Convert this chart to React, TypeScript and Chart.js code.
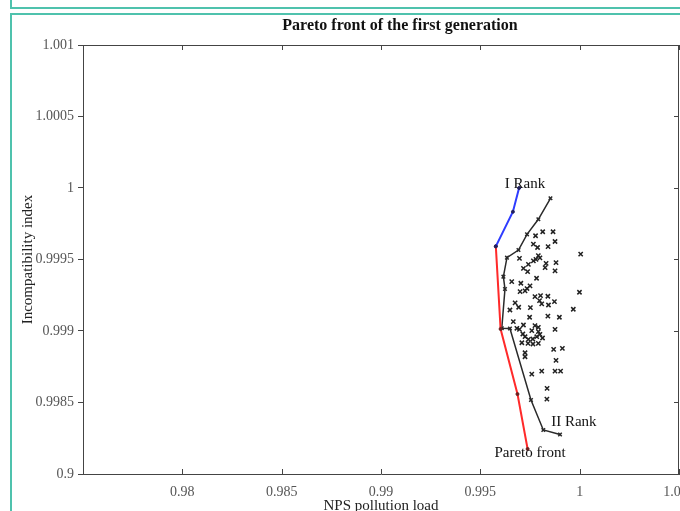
import React, { useEffect, useRef } from 'react';
import { Chart, registerables } from 'chart.js';

Chart.register(...registerables);

const TITLE = 'Pareto front of the first generation';
const X_TITLE = 'NPS pollution load';
const Y_TITLE = 'Incompatibility index';

const xTickValues = [0.98, 0.985, 0.99, 0.995, 1, 1.005];
const xTickLabels = ['0.98', '0.985', '0.99', '0.995', '1', '1.005'];
const yTickValues = [0.998, 0.9985, 0.999, 0.9995, 1, 1.0005, 1.001];
const yTickLabels = ['0.9', '0.9985', '0.999', '0.9995', '1', '1.0005', '1.001'];

// whole first-generation population
const populationX = [
  0.99814, 0.99866, 0.99778, 0.99876, 0.99767, 0.99788, 0.99841, 1.00005, 0.99792, 0.998,
  0.99697, 0.9978, 0.99767, 0.99881, 0.99742, 0.99831, 0.99826, 0.99717, 0.99738, 0.99876,
  0.99783, 0.99704, 0.99658, 0.9975, 0.99735, 0.99725, 0.997, 0.99999, 0.99775, 0.99803,
  0.9984, 0.99798, 0.99809, 0.99843, 0.99873, 0.99675, 0.99693, 0.99752, 0.99968, 0.99649,
  0.99748, 0.9984, 0.99898, 0.99666, 0.99717, 0.99759, 0.99792, 0.99876, 0.99684, 0.99697,
  0.99714, 0.99725, 0.99792, 0.998, 0.99742, 0.99764, 0.99784, 0.99709, 0.99792, 0.99869,
  0.99913, 0.99725, 0.99725, 0.99881, 0.99759, 0.99809, 0.99876, 0.99904, 0.99836, 0.99835,
  0.99775, 0.9974, 0.99765, 0.99813,
];
const populationY = [
  0.999694, 0.999694, 0.999666, 0.999626, 0.999608, 0.999584, 0.99959, 0.999538, 0.999527, 0.999511,
  0.999508, 0.999501, 0.99949, 0.999478, 0.999466, 0.999473, 0.999443, 0.999438, 0.999415, 0.99942,
  0.999369, 0.999334, 0.999345, 0.999315, 0.999297, 0.99928, 0.999275, 0.999271, 0.99924, 0.999248,
  0.999243, 0.999213, 0.99919, 0.999182, 0.999205, 0.999197, 0.999166, 0.999163, 0.999152, 0.999147,
  0.999096, 0.999104, 0.999096, 0.999065, 0.999042, 0.999002, 0.999026, 0.999011, 0.999019, 0.999012,
  0.998979, 0.99896, 0.998995, 0.998977, 0.998942, 0.998944, 0.99896, 0.998918, 0.998914, 0.998872,
  0.998879, 0.998848, 0.99882, 0.998794, 0.998698, 0.99872, 0.99872, 0.99872, 0.998599, 0.998524,
  0.999038, 0.998913, 0.998909, 0.998951,
];

// I Rank (blue)
const rank1X = [0.99578, 0.99664, 0.99695];
const rank1Y = [0.999592, 0.999834, 1.0];

// II Rank (black)
const rank2X = [0.99853, 0.99792, 0.99735, 0.99692, 0.99634, 0.99616, 0.99624, 0.99608, 0.99649, 0.99755, 0.99817, 0.99901];
const rank2Y = [0.999928, 0.999781, 0.999676, 0.999566, 0.999513, 0.99938, 0.999294, 0.999019, 0.999018, 0.998518, 0.998308, 0.998276];

// Pareto front (red)
const paretoX = [0.99578, 0.99602, 0.99687, 0.99738];
const paretoY = [0.999592, 0.999014, 0.998559, 0.998175];

const noteTexts = ['I Rank', 'II Rank', 'Pareto front'];
const noteX = [0.99725, 0.99971, 0.9975];
const noteY = [1.00003, 0.998364, 0.998147];

const toPoints = (xs: number[], ys: number[]) => xs.map((x, i) => ({ x, y: ys[i] }));

const SERIF = '"Liberation Serif", "Times New Roman", serif';

const framePlugin = {
  id: 'matlabFrame',
  afterDraw(chart: any) {
    const { ctx, chartArea } = chart;
    const { left, right, top, bottom } = chartArea;
    const xs = chart.scales.x;
    const ys = chart.scales.y;
    ctx.save();
    ctx.strokeStyle = '#444';
    ctx.lineWidth = 1;
    ctx.beginPath();
    ctx.moveTo(left, top + 0.5);
    ctx.lineTo(right, top + 0.5);
    ctx.moveTo(right - 0.5, top);
    ctx.lineTo(right - 0.5, bottom);
    xs.ticks.forEach((t: any) => {
      const px = Math.round(xs.getPixelForValue(t.value)) + 0.5;
      ctx.moveTo(px, bottom);
      ctx.lineTo(px, bottom - 5);
      ctx.moveTo(px, top);
      ctx.lineTo(px, top + 5);
    });
    ys.ticks.forEach((t: any) => {
      const py = Math.round(ys.getPixelForValue(t.value)) + 0.5;
      ctx.moveTo(right, py);
      ctx.lineTo(right - 5, py);
    });
    ctx.stroke();

    ctx.fillStyle = '#111';
    ctx.textAlign = 'center';
    ctx.textBaseline = 'middle';
    ctx.font = '15px ' + SERIF;
    noteTexts.forEach((s, i) => {
      ctx.fillText(s, xs.getPixelForValue(noteX[i]), ys.getPixelForValue(noteY[i]));
    });

    ctx.font = 'bold 16px ' + SERIF;
    ctx.fillText(TITLE, (left + right) / 2 + 19, top - 19);
    ctx.restore();
  },
};

export default function App() {
  const ref = useRef<HTMLCanvasElement>(null);

  useEffect(() => {
    if (!ref.current) return;
    Chart.defaults.font.family = SERIF;
    const chart = new Chart(ref.current, {
      type: 'scatter',
      data: {
        datasets: [
          {
            label: 'Population',
            data: toPoints(populationX, populationY),
            pointStyle: 'crossRot',
            pointRadius: 3,
            borderColor: '#222',
            backgroundColor: '#222',
            borderWidth: 1.5,
            showLine: false,
            order: 4,
          },
          {
            label: 'II Rank',
            data: toPoints(rank2X, rank2Y),
            showLine: true,
            borderColor: '#2a2a2a',
            backgroundColor: '#2a2a2a',
            borderWidth: 1.5,
            pointStyle: 'crossRot',
            pointRadius: 2.5,
            pointBorderWidth: 1.5,
            order: 3,
          },
          {
            label: 'Pareto front',
            data: toPoints(paretoX, paretoY),
            showLine: true,
            borderColor: '#ff2a2a',
            backgroundColor: '#6a2020',
            borderWidth: 2,
            pointRadius: 1.5,
            pointBorderColor: '#6a2020',
            pointBorderWidth: 1,
            order: 2,
          },
          {
            label: 'I Rank',
            data: toPoints(rank1X, rank1Y),
            showLine: true,
            borderColor: '#2e3cff',
            backgroundColor: '#202060',
            borderWidth: 2,
            pointRadius: 1.5,
            pointBorderColor: '#202060',
            pointBorderWidth: 1,
            order: 1,
          },
        ],
      },
      options: {
        responsive: false,
        animation: false,
        devicePixelRatio: 1,
        layout: { padding: { left: 0, top: 30, right: 53, bottom: 0 } },
        plugins: {
          legend: { display: false },
          title: { display: false },
          tooltip: { enabled: false },
        },
        scales: {
          x: {
            type: 'linear',
            min: 0.975,
            max: 1.005,
            afterBuildTicks: (s: any) => {
              s.ticks = xTickValues.map((v) => ({ value: v }));
            },
            afterFit: (s: any) => {
              s.height = 41;
            },
            ticks: {
              callback: (_v: any, i: number) => xTickLabels[i],
              color: '#555',
              font: { size: 14, family: SERIF },
              padding: 10,
              maxRotation: 0,
              autoSkip: false,
            },
            grid: { display: false, drawTicks: false },
            border: { display: true, color: '#444', width: 1 },
            title: {
              display: true,
              text: X_TITLE,
              color: '#222',
              font: { size: 15, family: SERIF },
              padding: { top: 0, bottom: 0 },
            },
          },
          y: {
            type: 'linear',
            min: 0.998,
            max: 1.001,
            afterBuildTicks: (s: any) => {
              s.ticks = yTickValues.map((v) => ({ value: v }));
            },
            afterFit: (s: any) => {
              s.width = 71;
            },
            ticks: {
              callback: (_v: any, i: number) => yTickLabels[i],
              color: '#555',
              font: { size: 14, family: SERIF },
              padding: 4,
              autoSkip: false,
            },
            grid: {
              display: true,
              drawOnChartArea: false,
              drawTicks: true,
              tickLength: 5,
              tickColor: '#444',
            },
            border: { display: true, color: '#444', width: 1 },
            title: {
              display: true,
              text: Y_TITLE,
              color: '#222',
              font: { size: 15, family: SERIF },
              padding: { top: 7, bottom: 0 },
            },
          },
        },
      },
      plugins: [framePlugin],
    });
    return () => chart.destroy();
  }, []);

  return (
    <div
      style={{
        position: 'fixed',
        left: 0,
        top: 0,
        width: 680,
        height: 511,
        overflow: 'hidden',
        background: '#fff',
      }}
    >
      <div
        style={{
          position: 'absolute',
          left: 10,
          top: -20,
          width: 720,
          height: 29,
          border: '2px solid #4fc2ad',
          boxSizing: 'border-box',
        }}
      />
      <div
        style={{
          position: 'absolute',
          left: 10,
          top: 13,
          width: 720,
          height: 520,
          border: '2px solid #4fc2ad',
          boxSizing: 'border-box',
        }}
      />
      <canvas
        ref={ref}
        width={720}
        height={500}
        style={{ position: 'absolute', left: 12, top: 15, width: 720, height: 500 }}
      />
    </div>
  );
}
